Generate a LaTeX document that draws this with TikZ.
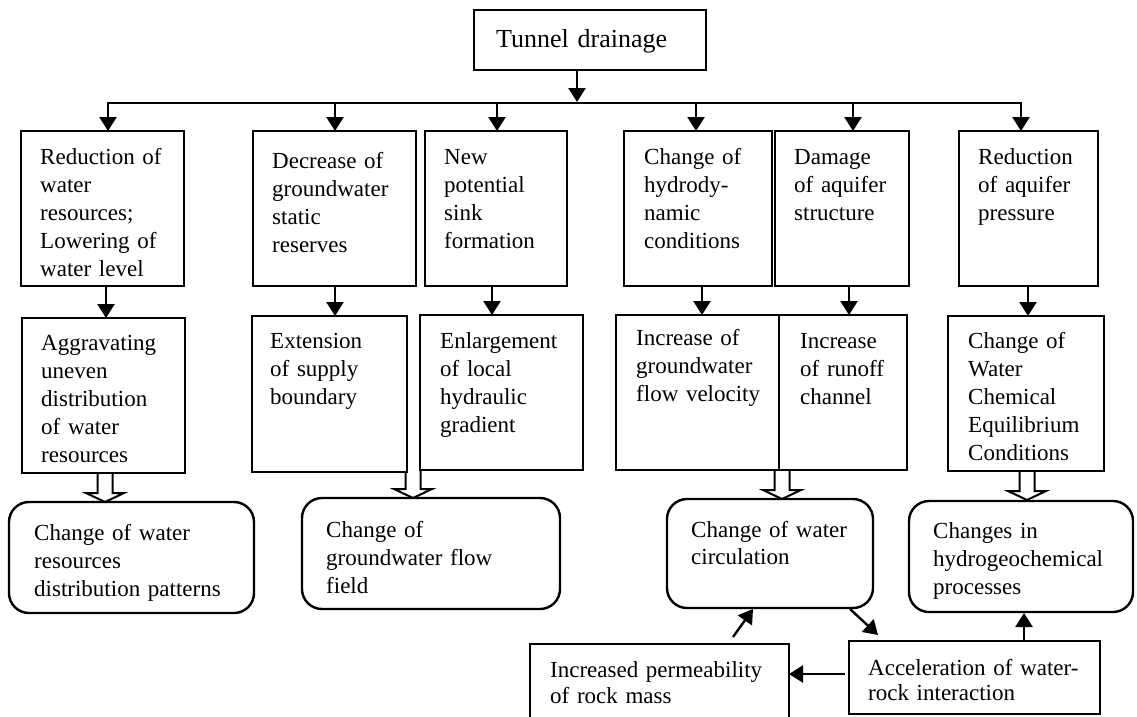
\documentclass[tikz,border=0pt]{standalone}
\usepackage{fontspec}
\setmainfont{Liberation Serif}
\usetikzlibrary{arrows.meta,calc}
\begin{document}
\begin{tikzpicture}[x=1pt,y=-1pt,
  box/.style={draw, line width=2.4pt, inner sep=0pt, outer sep=0pt, anchor=north west},
  rbox/.style={box, rounded corners=20pt},
  txt/.style={inner sep=0pt, anchor=base west, align=left, text width=260pt, font=\fontsize{23}{28}\selectfont},
  arr/.style={line width=2.4pt, -{Triangle[length=14pt,width=17pt]}},
  hol/.style={line width=2pt, line join=miter}]
\useasboundingbox[fill=white] (0,0) rectangle (1137,716);
\newcommand\hollowarrow[2]{\draw[hol] ($(#1)+(-7.5,0)$) -- ++(0,#2-9) -- ++(-11.5,0) -- ++(19,9) -- ++(19,-9) -- ++(-11.5,0) -- ++(0,-#2+9);}
% top
\node[box, minimum width=232pt, minimum height=60pt] (td) at (474,10) {};
\node[txt, font=\fontsize{26}{30}\selectfont] (ttd) at (496,47) {Tunnel drainage};
% row 1
\node[box, minimum width=163pt, minimum height=155pt] (b1) at (21,131) {};
\node[box, minimum width=163pt, minimum height=155pt] (b2) at (253,131) {};
\node[box, minimum width=142pt, minimum height=155pt] (b3) at (425,131) {};
\node[box, minimum width=148pt, minimum height=155pt] (b4) at (624,131) {};
\node[box, minimum width=134pt, minimum height=155pt] (b5) at (775,131) {};
\node[box, minimum width=139pt, minimum height=155pt] (b6) at (959,131) {};
\node[txt] (tb1) at (40,164) {Reduction of\\water\\resources;\\Lowering of\\water level};
\node[txt] (tb2) at (272,168) {Decrease of\\groundwater\\static\\reserves};
\node[txt] (tb3) at (444,164) {New\\potential\\sink\\formation};
\node[txt] (tb4) at (644,164) {Change of\\hydrody-\\namic\\conditions};
\node[txt] (tb5) at (794,164) {Damage\\of aquifer\\structure};
\node[txt] (tb6) at (978,164) {Reduction\\of aquifer\\pressure};
% row 2
\node[box, minimum width=163pt, minimum height=155pt] (c1) at (22,318) {};
\node[box, minimum width=155pt, minimum height=156pt] (c2) at (252,316) {};
\node[box, minimum width=163pt, minimum height=155pt] (c3) at (420,315) {};
\node[box, minimum width=163pt, minimum height=155pt] (c4) at (616,315) {};
\node[box, minimum width=128pt, minimum height=155pt] (c5) at (779,315) {};
\node[box, minimum width=156pt, minimum height=155pt] (c6) at (948,316) {};
\node[txt] (tc1) at (41,350) {Aggravating\\uneven\\distribution\\of water\\resources};
\node[txt] (tc2) at (270,348) {Extension\\of supply\\boundary};
\node[txt] (tc3) at (440,348) {Enlargement\\of local\\hydraulic\\gradient};
\node[txt] (tc4) at (636,345) {Increase of\\groundwater\\flow velocity};
\node[txt] (tc5) at (800,348) {Increase\\of runoff\\channel};
\node[txt] (tc6) at (968,348) {Change of\\Water\\Chemical\\Equilibrium\\Conditions};
% row 3
\node[rbox, minimum width=245pt, minimum height=111pt] (d1) at (9,502) {};
\node[rbox, minimum width=258pt, minimum height=111pt] (d2) at (302,498) {};
\node[rbox, minimum width=206pt, minimum height=109pt] (d3) at (667,499) {};
\node[rbox, minimum width=224pt, minimum height=111pt] (d4) at (909,501) {};
\node[txt] (td1) at (34,540) {Change of water\\resources\\distribution patterns};
\node[txt] (td2) at (326,537) {Change of\\groundwater flow\\field};
\node[txt, font=\fontsize{23}{27}\selectfont] (td3) at (691,537) {Change of water\\circulation};
\node[txt] (td4) at (933,538) {Changes in\\hydrogeochemical\\processes};
% bottom
\node[box, minimum width=259pt, minimum height=90pt] (e1) at (530,644) {};
\node[box, minimum width=251pt, minimum height=73pt] (e2) at (849,641) {};
\node[txt, font=\fontsize{23}{26}\selectfont] (te1) at (550,677) {Increased permeability\\of rock mass};
\node[txt, font=\fontsize{23}{25}\selectfont] (te2) at (868,675) {Acceleration of water-\\rock interaction};
% bus
\coordinate (tdx) at (577,0);
\coordinate (k1) at (108,103);
\coordinate (k2) at (335,103);
\coordinate (k3) at (497,103);
\coordinate (k4) at (696,103);
\coordinate (k5) at (853,103);
\coordinate (k6) at (1021,103);
\draw[arr] (td.south -| tdx) -- (577,102);
\draw[line width=2.4pt, line cap=rect] (k1) -- (k6);
\draw[arr] (k1) -- (b1.north -| k1);
\draw[arr] (k2) -- (b2.north -| k2);
\draw[arr] (k3) -- (b3.north -| k3);
\draw[arr] (k4) -- (b4.north -| k4);
\draw[arr] (k5) -- (b5.north -| k5);
\draw[arr] (k6) -- (b6.north -| k6);
% row1 -> row2
\coordinate (m1) at (106,0);
\coordinate (m2) at (335,0);
\coordinate (m3) at (492,0);
\coordinate (m4) at (702,0);
\coordinate (m5) at (849,0);
\coordinate (m6) at (1028,0);
\draw[arr] (b1.south -| m1) -- (c1.north -| m1);
\draw[arr] (b2.south -| m2) -- (c2.north -| m2);
\draw[arr] (b3.south -| m3) -- (c3.north -| m3);
\draw[arr] (b4.south -| m4) -- (c4.north -| m4);
\draw[arr] (b5.south -| m5) -- (c5.north -| m5);
\draw[arr] (b6.south -| m6) -- (c6.north -| m6);
% hollow arrows
\coordinate (h1) at (105,473);
\coordinate (h2) at (413,471);
\coordinate (h3) at (782,470);
\coordinate (h4) at (1027,471);
\hollowarrow{h1}{29}
\hollowarrow{h2}{27}
\hollowarrow{h3}{29}
\hollowarrow{h4}{29}
% bottom arrows
\coordinate (p1) at (845,674);
\coordinate (p2) at (733,637);
\coordinate (p3) at (753,609);
\coordinate (p4) at (850,609);
\coordinate (p5) at (878,635);
\coordinate (p6) at (1024,641);
\coordinate (p7) at (1024,613);
\draw[arr] (p1) -- (e1.east |- p1);
\draw[arr] (p2) -- (p3);
\draw[arr] (p4) -- (p5);
\draw[arr] (p6) -- (p7);
\end{tikzpicture}
\end{document}
